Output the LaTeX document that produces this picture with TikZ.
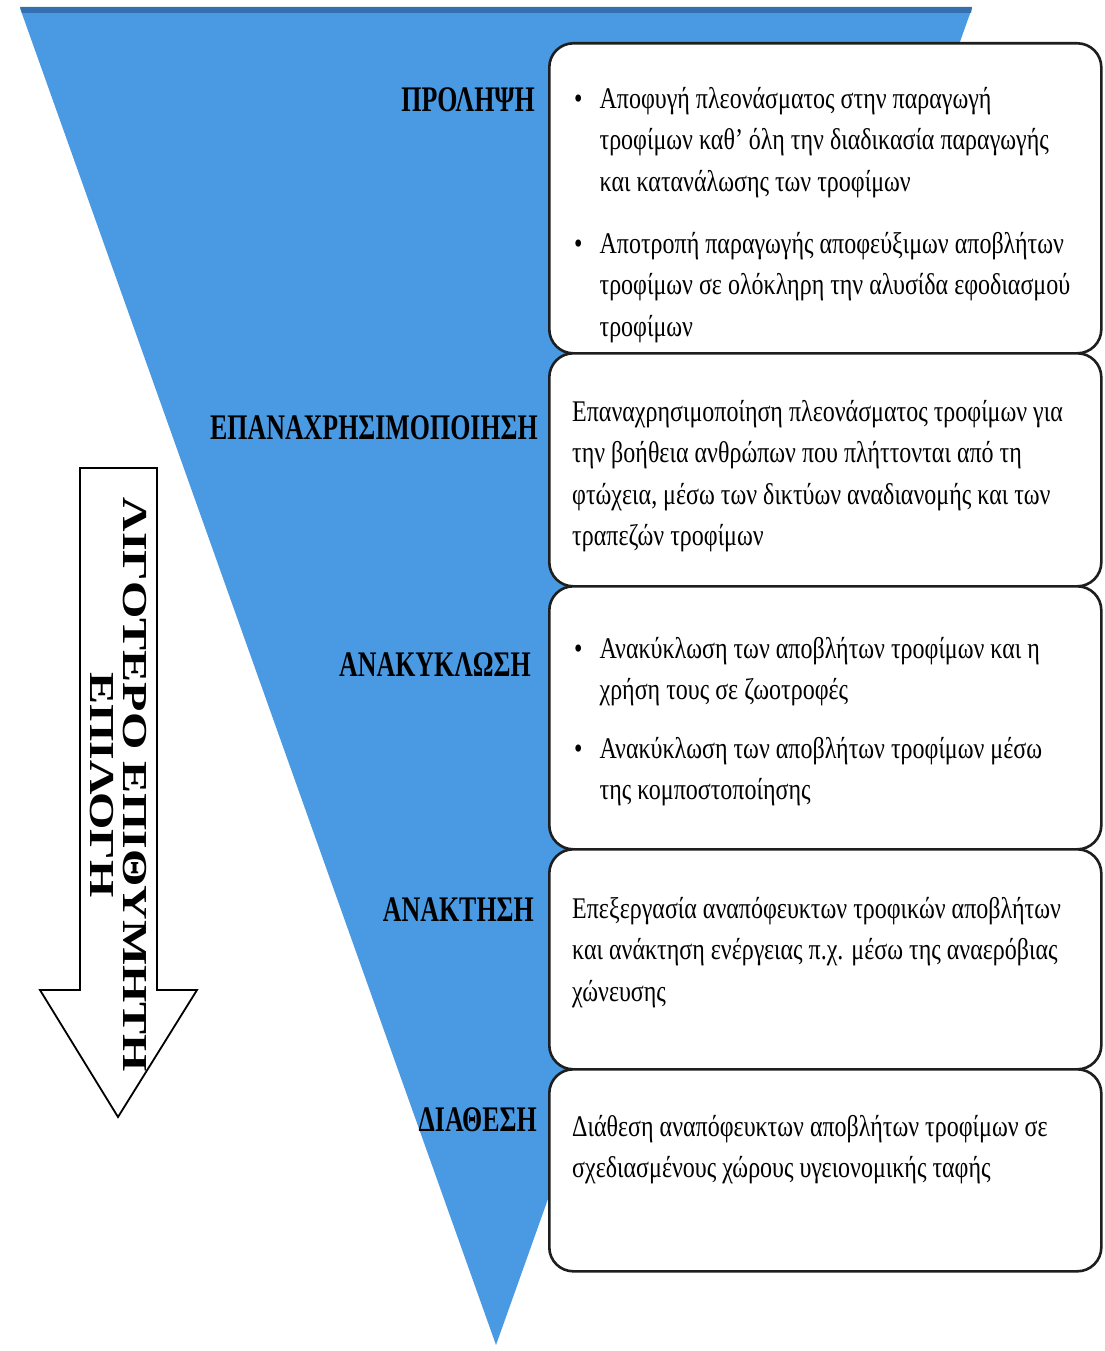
\documentclass[tikz,border=0pt]{standalone}
\usepackage{fontspec}
\usepackage{graphicx}
\setmainfont{Liberation Serif}
\newfontfamily\bodyfont[FakeStretch=0.80]{Liberation Serif}
\newfontfamily\labelfont[FakeStretch=0.72]{Liberation Serif}
\definecolor{triblue}{RGB}{74,154,227}
\definecolor{tritop}{RGB}{52,112,176}
\definecolor{boxline}{RGB}{30,30,30}
\tikzset{
  box/.style={draw=boxline, line width=2.6pt, fill=white, rounded corners=24pt,
    minimum width=552pt, anchor=north west, inner sep=0pt},
  lbl/.style={anchor=east, inner sep=0pt, font=\labelfont\bfseries\fontsize{36}{40}\selectfont},
  body/.style={anchor=north west, inner sep=0pt, align=left,
    font=\bodyfont\fontsize{30}{41.5}\selectfont},
  bigarrow/.style={draw=black, line width=1.8pt, fill=white, line join=miter}
}
\newcommand{\bul}{\textbullet}
\begin{document}
\begin{tikzpicture}[x=1pt,y=-1pt]
\useasboundingbox (0,0) rectangle (1104,1351);
\fill[white] (0,0) rectangle (1104,1351);
% inverted triangle
\fill[triblue] (20,8) -- (972,8) -- (496,1345) -- cycle;
\fill[tritop] (20,7) -- (972,7) -- (971,13) -- (22,13) -- cycle;
% boxes
\node[box, minimum height=310pt] (b1) at (548,42) {};
\node[box, minimum height=233pt] (b2) at (548,352) {};
\node[box, minimum height=263pt] (b3) at (548,585) {};
\node[box, minimum height=220pt] (b4) at (548,848) {};
\node[box, minimum height=202pt] (b5) at (548,1068) {};
% labels
\node[lbl] (l1) at (535,100) {ΠΡΟΛΗΨΗ};
\node[lbl] (l2) at (538,428) {ΕΠΑΝΑΧΡΗΣΙΜΟΠΟΙΗΣΗ};
\node[lbl] (l3) at (531,665) {ΑΝΑΚΥΚΛΩΣΗ};
\node[lbl] (l4) at (534,910) {ΑΝΑΚΤΗΣΗ};
\node[lbl] (l5) at (537,1120) {ΔΙΑΘΕΣΗ};
% box texts
\node[body] (t1a) at (574,79) {\begin{tabular}{@{}l@{\hspace{17pt}}l@{}}
\bul & Αποφυγή πλεονάσματος στην παραγωγή\\
 & τροφίμων καθ’ όλη την διαδικασία παραγωγής\\
 & και κατανάλωσης των τροφίμων\end{tabular}};
\node[body] (t1b) at (574,224) {\begin{tabular}{@{}l@{\hspace{17pt}}l@{}}
\bul & Αποτροπή παραγωγής αποφεύξιμων αποβλήτων\\
 & τροφίμων σε ολόκληρη την αλυσίδα εφοδιασμού\\
 & τροφίμων\end{tabular}};
\node[body] (t2) at (572,392) {\begin{tabular}{@{}l@{}}
Επαναχρησιμοποίηση πλεονάσματος τροφίμων για\\
την βοήθεια ανθρώπων που πλήττονται από τη\\
φτώχεια, μέσω των δικτύων αναδιανομής και των\\
τραπεζών τροφίμων\end{tabular}};
\node[body] (t3a) at (574,629) {\begin{tabular}{@{}l@{\hspace{17pt}}l@{}}
\bul & Ανακύκλωση των αποβλήτων τροφίμων και η\\
 & χρήση τους σε ζωοτροφές\end{tabular}};
\node[body] (t3b) at (574,729) {\begin{tabular}{@{}l@{\hspace{17pt}}l@{}}
\bul & Ανακύκλωση των αποβλήτων τροφίμων μέσω\\
 & της κομποστοποίησης\end{tabular}};
\node[body] (t4) at (572,889) {\begin{tabular}{@{}l@{}}
Επεξεργασία αναπόφευκτων τροφικών αποβλήτων\\
και ανάκτηση ενέργειας π.χ. μέσω της αναερόβιας\\
χώνευσης\end{tabular}};
\node[body] (t5) at (572,1107) {\begin{tabular}{@{}l@{}}
Διάθεση αναπόφευκτων αποβλήτων τροφίμων σε\\
σχεδιασμένους χώρους υγειονομικής ταφής\end{tabular}};
% big arrow
\draw[bigarrow] (80,468) -- (157,468) -- (157,990) -- (197,990) -- (118,1117)
  -- (40,990) -- (80,990) -- cycle;
\node[rotate=-90, inner sep=0pt, font=\bfseries\fontsize{48}{45}\selectfont] (at) at (114,785)
  {\scalebox{1}[0.73]{\begin{tabular}{@{}c@{}}ΛΙΓΟΤΕΡΟ ΕΠΙΘΥΜΗΤΗ\\ΕΠΙΛΟΓΗ\end{tabular}}};
\end{tikzpicture}
\end{document}
